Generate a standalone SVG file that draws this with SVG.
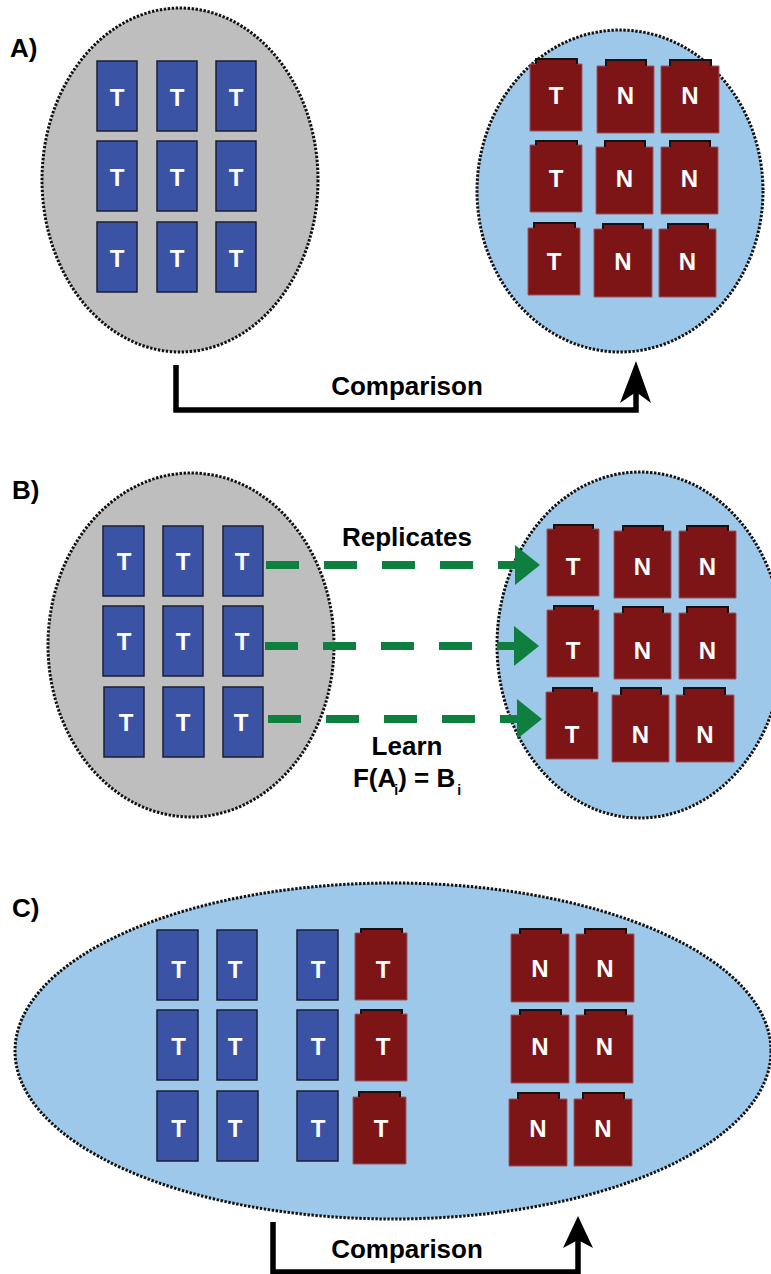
<svg xmlns="http://www.w3.org/2000/svg" width="771" height="1274" viewBox="0 0 771 1274">
  <style>
    .bg { fill: #ffffff; }
    .pool { stroke: #111111; stroke-width: 3; stroke-dasharray: 2.4 1.6; }
    .grey { fill: #bebebe; }
    .sky { fill: #9dc8e9; }
    .bt { fill: #3a53a4; stroke: #1c1f33; stroke-width: 1.5; }
    .rt { fill: #7d1416; stroke: #a0545e; stroke-width: 1; }
    .tab { fill: none; stroke: #111111; stroke-width: 2; }
    .tl { font-family: "Liberation Sans", Arial, sans-serif; font-weight: bold; font-size: 24px; fill: #ffffff; text-anchor: middle; }
    .lbl { font-family: "Liberation Sans", Arial, sans-serif; font-weight: bold; font-size: 26px; fill: #000000; }
    .mid { text-anchor: middle; }
    .cmp { fill: none; stroke: #000000; stroke-width: 5.5; }
    .cmphead { fill: #000000; }
    .rep { fill: none; stroke: #0e7f3e; stroke-width: 8; stroke-dasharray: 33 25; }
    .rephead { fill: #0e7f3e; }
  </style>

  <rect class="bg" x="0" y="0" width="771" height="1274"/>

  <!-- panel labels -->
  <g id="labels">
    <text class="lbl" x="10" y="57">A)</text>
    <text class="lbl" x="12" y="499">B)</text>
    <text class="lbl" x="12" y="917">C)</text>
  </g>

  <!-- ===== Panel A ===== -->
  <g id="a-pool-grey"><ellipse class="pool grey" cx="180" cy="180" rx="138" ry="172"/></g>
  <g id="a-pool-blue"><ellipse class="pool sky" cx="620" cy="191" rx="143" ry="161"/></g>

  <g id="a-blue-tiles">
    <g id="a-b11"><rect class="bt" x="97" y="61" width="40" height="70"/><text class="tl" x="117" y="106">T</text></g>
    <g id="a-b12"><rect class="bt" x="157" y="61" width="40" height="70"/><text class="tl" x="177" y="106">T</text></g>
    <g id="a-b13"><rect class="bt" x="216" y="61" width="40" height="70"/><text class="tl" x="236" y="106">T</text></g>
    <g id="a-b21"><rect class="bt" x="97" y="141" width="40" height="70"/><text class="tl" x="117" y="186">T</text></g>
    <g id="a-b22"><rect class="bt" x="157" y="141" width="40" height="70"/><text class="tl" x="177" y="186">T</text></g>
    <g id="a-b23"><rect class="bt" x="216" y="141" width="40" height="70"/><text class="tl" x="236" y="186">T</text></g>
    <g id="a-b31"><rect class="bt" x="97" y="222" width="40" height="70"/><text class="tl" x="117" y="267">T</text></g>
    <g id="a-b32"><rect class="bt" x="157" y="222" width="40" height="70"/><text class="tl" x="177" y="267">T</text></g>
    <g id="a-b33"><rect class="bt" x="216" y="222" width="40" height="70"/><text class="tl" x="236" y="267">T</text></g>
  </g>

  <g id="a-red-tiles">
    <g id="a-r11"><path class="rt" d="M530 64H536V59H577V64H582V131H530Z"/><path class="tab" d="M536 64V59H577V64"/><text class="tl" x="556" y="104">T</text></g>
    <g id="a-r12"><path class="rt" d="M597 66H606V60H646V66H654V133H597Z"/><path class="tab" d="M606 66V60H646V66"/><text class="tl" x="625.5" y="104">N</text></g>
    <g id="a-r13"><path class="rt" d="M661 66H670V60H711V66H719V133H661Z"/><path class="tab" d="M670 66V60H711V66"/><text class="tl" x="690" y="104">N</text></g>
    <g id="a-r21"><path class="rt" d="M530 145H536V141H577V145H582V212H530Z"/><path class="tab" d="M536 145V141H577V145"/><text class="tl" x="556" y="187">T</text></g>
    <g id="a-r22"><path class="rt" d="M596 147H605V141H645V147H653V214H596Z"/><path class="tab" d="M605 147V141H645V147"/><text class="tl" x="624.5" y="187">N</text></g>
    <g id="a-r23"><path class="rt" d="M661 147H670V141H710V147H718V214H661Z"/><path class="tab" d="M670 147V141H710V147"/><text class="tl" x="689.5" y="187">N</text></g>
    <g id="a-r31"><path class="rt" d="M528 228H534V223H575V228H580V295H528Z"/><path class="tab" d="M534 228V223H575V228"/><text class="tl" x="554" y="270">T</text></g>
    <g id="a-r32"><path class="rt" d="M594 229H603V224H643V229H652V297H594Z"/><path class="tab" d="M603 229V224H643V229"/><text class="tl" x="623" y="270">N</text></g>
    <g id="a-r33"><path class="rt" d="M659 229H668V224H708V229H716V297H659Z"/><path class="tab" d="M668 229V224H708V229"/><text class="tl" x="687.5" y="270">N</text></g>
  </g>

  <!-- ===== Panel B ===== -->
  <g id="b-pool-grey"><ellipse class="pool grey" cx="191" cy="645" rx="143" ry="172"/></g>
  <g id="b-pool-blue"><ellipse class="pool sky" cx="640" cy="645" rx="143" ry="173"/></g>

  <g id="b-blue-tiles">
    <g id="b-b11"><rect class="bt" x="103" y="526" width="41" height="70"/><text class="tl" x="124" y="570">T</text></g>
    <g id="b-b12"><rect class="bt" x="163" y="526" width="40" height="70"/><text class="tl" x="183" y="570">T</text></g>
    <g id="b-b13"><rect class="bt" x="223" y="526" width="40" height="70"/><text class="tl" x="242" y="570">T</text></g>
    <g id="b-b21"><rect class="bt" x="103" y="606" width="41" height="70"/><text class="tl" x="124" y="650">T</text></g>
    <g id="b-b22"><rect class="bt" x="163" y="606" width="40" height="70"/><text class="tl" x="183" y="650">T</text></g>
    <g id="b-b23"><rect class="bt" x="223" y="606" width="40" height="70"/><text class="tl" x="242" y="650">T</text></g>
    <g id="b-b31"><rect class="bt" x="104" y="687" width="40" height="70"/><text class="tl" x="126" y="731">T</text></g>
    <g id="b-b32"><rect class="bt" x="163" y="687" width="41" height="70"/><text class="tl" x="183" y="731">T</text></g>
    <g id="b-b33"><rect class="bt" x="223" y="687" width="40" height="70"/><text class="tl" x="241" y="731">T</text></g>
  </g>

  <g id="b-red-tiles">
    <g id="b-r11"><path class="rt" d="M547 529H554V525H593V529H599V596H547Z"/><path class="tab" d="M554 529V525H593V529"/><text class="tl" x="573" y="575">T</text></g>
    <g id="b-r12"><path class="rt" d="M614 531H623V526H663V531H671V598H614Z"/><path class="tab" d="M623 531V526H663V531"/><text class="tl" x="642.5" y="575">N</text></g>
    <g id="b-r13"><path class="rt" d="M679 531H687V526H728V531H736V598H679Z"/><path class="tab" d="M687 531V526H728V531"/><text class="tl" x="707.5" y="575">N</text></g>
    <g id="b-r21"><path class="rt" d="M547 610H554V606H593V610H599V677H547Z"/><path class="tab" d="M554 610V606H593V610"/><text class="tl" x="573" y="659">T</text></g>
    <g id="b-r22"><path class="rt" d="M614 613H623V607H663V613H671V679H614Z"/><path class="tab" d="M623 613V607H663V613"/><text class="tl" x="642.5" y="659">N</text></g>
    <g id="b-r23"><path class="rt" d="M679 613H687V607H728V613H736V679H679Z"/><path class="tab" d="M687 613V607H728V613"/><text class="tl" x="707.5" y="659">N</text></g>
    <g id="b-r31"><path class="rt" d="M546 692H553V688H592V692H598V759H546Z"/><path class="tab" d="M553 692V688H592V692"/><text class="tl" x="572" y="743">T</text></g>
    <g id="b-r32"><path class="rt" d="M612 695H621V688H661V695H669V762H612Z"/><path class="tab" d="M621 695V688H661V695"/><text class="tl" x="640.5" y="743">N</text></g>
    <g id="b-r33"><path class="rt" d="M676 695H684V688H725V695H734V762H676Z"/><path class="tab" d="M684 695V688H725V695"/><text class="tl" x="705" y="743">N</text></g>
  </g>

  <!-- ===== Panel C ===== -->
  <g id="c-pool"><ellipse class="pool sky" cx="393" cy="1051" rx="378" ry="168"/></g>

  <g id="c-blue-tiles">
    <g id="c-b11"><rect class="bt" x="157" y="930" width="41" height="70"/><text class="tl" x="178.5" y="978">T</text></g>
    <g id="c-b12"><rect class="bt" x="217" y="930" width="40" height="70"/><text class="tl" x="235" y="978">T</text></g>
    <g id="c-b13"><rect class="bt" x="297" y="930" width="41" height="70"/><text class="tl" x="318" y="978">T</text></g>
    <g id="c-b21"><rect class="bt" x="157" y="1010" width="41" height="70"/><text class="tl" x="178.5" y="1055">T</text></g>
    <g id="c-b22"><rect class="bt" x="217" y="1010" width="40" height="70"/><text class="tl" x="235" y="1055">T</text></g>
    <g id="c-b23"><rect class="bt" x="297" y="1010" width="41" height="70"/><text class="tl" x="318" y="1055">T</text></g>
    <g id="c-b31"><rect class="bt" x="157" y="1091" width="41" height="70"/><text class="tl" x="178.5" y="1137">T</text></g>
    <g id="c-b32"><rect class="bt" x="217" y="1091" width="41" height="70"/><text class="tl" x="235" y="1137">T</text></g>
    <g id="c-b33"><rect class="bt" x="297" y="1091" width="41" height="70"/><text class="tl" x="318" y="1137">T</text></g>
  </g>

  <g id="c-red-tiles">
    <g id="c-rt1"><path class="rt" d="M355 933H361V929H402V933H407V1000H355Z"/><path class="tab" d="M361 933V929H402V933"/><text class="tl" x="383" y="978">T</text></g>
    <g id="c-rt2"><path class="rt" d="M355 1014H361V1010H402V1014H407V1081H355Z"/><path class="tab" d="M361 1014V1010H402V1014"/><text class="tl" x="383" y="1055">T</text></g>
    <g id="c-rt3"><path class="rt" d="M353 1097H359V1092H400V1097H406V1164H353Z"/><path class="tab" d="M359 1097V1092H400V1097"/><text class="tl" x="381" y="1137">T</text></g>
    <g id="c-rn11"><path class="rt" d="M511 934H520V929H561V934H569V1002H511Z"/><path class="tab" d="M520 934V929H561V934"/><text class="tl" x="540" y="977">N</text></g>
    <g id="c-rn12"><path class="rt" d="M576 934H585V929H626V934H634V1002H576Z"/><path class="tab" d="M585 934V929H626V934"/><text class="tl" x="605" y="977">N</text></g>
    <g id="c-rn21"><path class="rt" d="M511 1015H520V1010H561V1015H569V1083H511Z"/><path class="tab" d="M520 1015V1010H561V1015"/><text class="tl" x="540" y="1055">N</text></g>
    <g id="c-rn22"><path class="rt" d="M576 1015H585V1010H626V1015H633V1083H576Z"/><path class="tab" d="M585 1015V1010H626V1015"/><text class="tl" x="604.5" y="1055">N</text></g>
    <g id="c-rn31"><path class="rt" d="M509 1099H518V1093H559V1099H567V1166H509Z"/><path class="tab" d="M518 1099V1093H559V1099"/><text class="tl" x="538" y="1137">N</text></g>
    <g id="c-rn32"><path class="rt" d="M574 1099H583V1093H624V1099H632V1166H574Z"/><path class="tab" d="M583 1099V1093H624V1099"/><text class="tl" x="603" y="1137">N</text></g>
  </g>

  <!-- ===== connectors ===== -->
  <g id="connectors">
    <!-- panel A comparison -->
    <path class="cmp" d="M176 365V410H636V390"/>
    <polygon class="cmphead" points="636,361 651,403 636,392 620,403"/>
    <text class="lbl mid" x="407" y="395">Comparison</text>

    <!-- panel B replicate links -->
    <line class="rep" x1="266" y1="565" x2="516" y2="565"/>
    <polygon class="rephead" points="515,545 540,565 515,585"/>
    <line class="rep" x1="265" y1="646" x2="515" y2="646"/>
    <polygon class="rephead" points="514,626 539,646 514,666"/>
    <line class="rep" x1="268" y1="719" x2="518" y2="719"/>
    <polygon class="rephead" points="517,699 542,719 517,739"/>
    <text class="lbl mid" x="407" y="546">Replicates</text>
    <text class="lbl mid" x="407" y="755">Learn</text>
    <text class="lbl mid" x="407" y="787">F(A<tspan font-size="14" dx="-2" dy="8">i</tspan><tspan dy="-8">) = B</tspan><tspan font-size="14" dx="2" dy="8">i</tspan></text>

    <!-- panel C comparison -->
    <path class="cmp" d="M273 1222V1272H578V1238"/>
    <polygon class="cmphead" points="578,1216 593,1248 578,1240 563,1248"/>
    <text class="lbl mid" x="407" y="1258">Comparison</text>
  </g>
</svg>
